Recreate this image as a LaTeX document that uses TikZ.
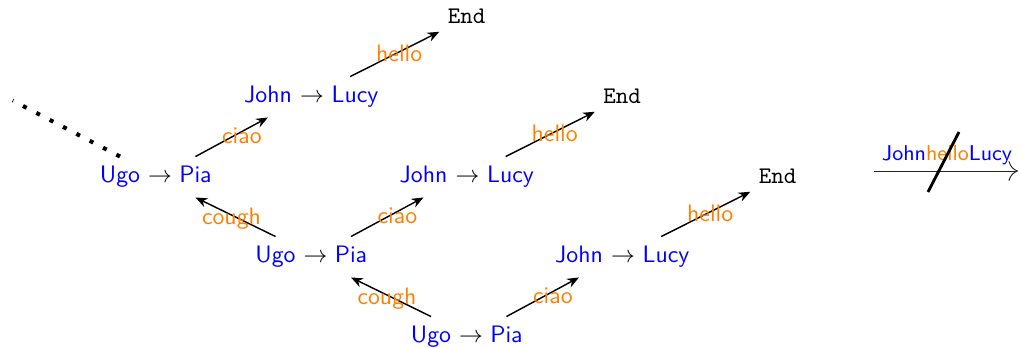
\documentclass[tikz,border=0pt]{standalone}
\usetikzlibrary{arrows.meta}
\begin{document}
\begin{tikzpicture}[x=0.42pt,y=-0.42pt,
  word/.style={text=blue, font=\sffamily, text height=7pt, text depth=2pt, inner xsep=0pt, inner ysep=3.9pt},
  rel/.style={text=black, text height=7pt, text depth=2pt, inner xsep=0pt, inner ysep=3.9pt},
  endnode/.style={font=\ttfamily},
  lbl/.style={text=orange, font=\sffamily, inner sep=1pt},
  edge/.style={line width=0.6pt, -{Stealth[length=5pt,width=4pt]}},
]
\useasboundingbox (0,0) rectangle (1021,348);

% level 0
\node[word] (u0) at (120,177) {Ugo};
\node[rel]  (a0) at (160,177) {$\to$};
\node[word] (p0) at (195.5,177) {Pia};
\node[word] (j1) at (268,97) {John};
\node[rel]  (b1) at (312,97) {$\to$};
\node[word] (l1) at (355,97) {Lucy};
\node[endnode] (e1) at (466.5,16) {End};

% level 1
\node[word] (u1) at (275.5,257) {Ugo};
\node[rel]  (a1) at (315.5,257) {$\to$};
\node[word] (p1) at (351,257) {Pia};
\node[word] (j2) at (423.5,177) {John};
\node[rel]  (b2) at (467.5,177) {$\to$};
\node[word] (l2) at (510.5,177) {Lucy};
\node[endnode] (e2) at (622,96) {End};

% level 2
\node[word] (u2) at (431,337) {Ugo};
\node[rel]  (a2) at (471,337) {$\to$};
\node[word] (p2) at (506.5,337) {Pia};
\node[word] (j3) at (579,257) {John};
\node[rel]  (b3) at (623,257) {$\to$};
\node[word] (l3) at (666,257) {Lucy};
\node[endnode] (e3) at (777.5,176) {End};

% edges
\draw[edge] (p0.north) -- node[lbl,pos=0.64,yshift=-2pt]{ciao} (j1.south);
\draw[edge] ([xshift=-2pt]l1.north) -- node[lbl,pos=0.55,yshift=-0.8pt]{hello} (e1.south west);
\draw[edge] (u1.north) -- node[lbl,pos=0.55,yshift=-1.5pt]{cough} (p0.south);
\draw[edge] (p1.north) -- node[lbl,pos=0.64,yshift=-2pt]{ciao} (j2.south);
\draw[edge] ([xshift=-2pt]l2.north) -- node[lbl,pos=0.55,yshift=-0.8pt]{hello} (e2.south west);
\draw[edge] (u2.north) -- node[lbl,pos=0.55,yshift=-1.5pt]{cough} (p1.south);
\draw[edge] (p2.north) -- node[lbl,pos=0.64,yshift=-2pt]{ciao} (j3.south);
\draw[edge] ([xshift=-2pt]l3.north) -- node[lbl,pos=0.55,yshift=-0.8pt]{hello} (e3.south west);

% dotted continuation
\coordinate (dotend) at (12.7,100.6);
\draw[line width=1.7pt, dash pattern=on 1.7pt off 4.62pt] (u0.north) -- (dotend);

% legend
\node[font=\sffamily\small, anchor=base, inner sep=0pt] (lg) at (947,160.7)
  {\textcolor{blue}{John}\textcolor{orange}{hello}\textcolor{blue}{Lucy}};
\coordinate (la) at (874,171);
\coordinate (lb) at (1018,171);
\draw[line width=0.4pt, black!85, -{To[scale=1.6]}] (la) -- (lb);
\coordinate (sa) at (928,192);
\coordinate (sb) at (959,132);
\draw[line width=1.2pt] (sa) -- (sb);
\end{tikzpicture}
\end{document}
